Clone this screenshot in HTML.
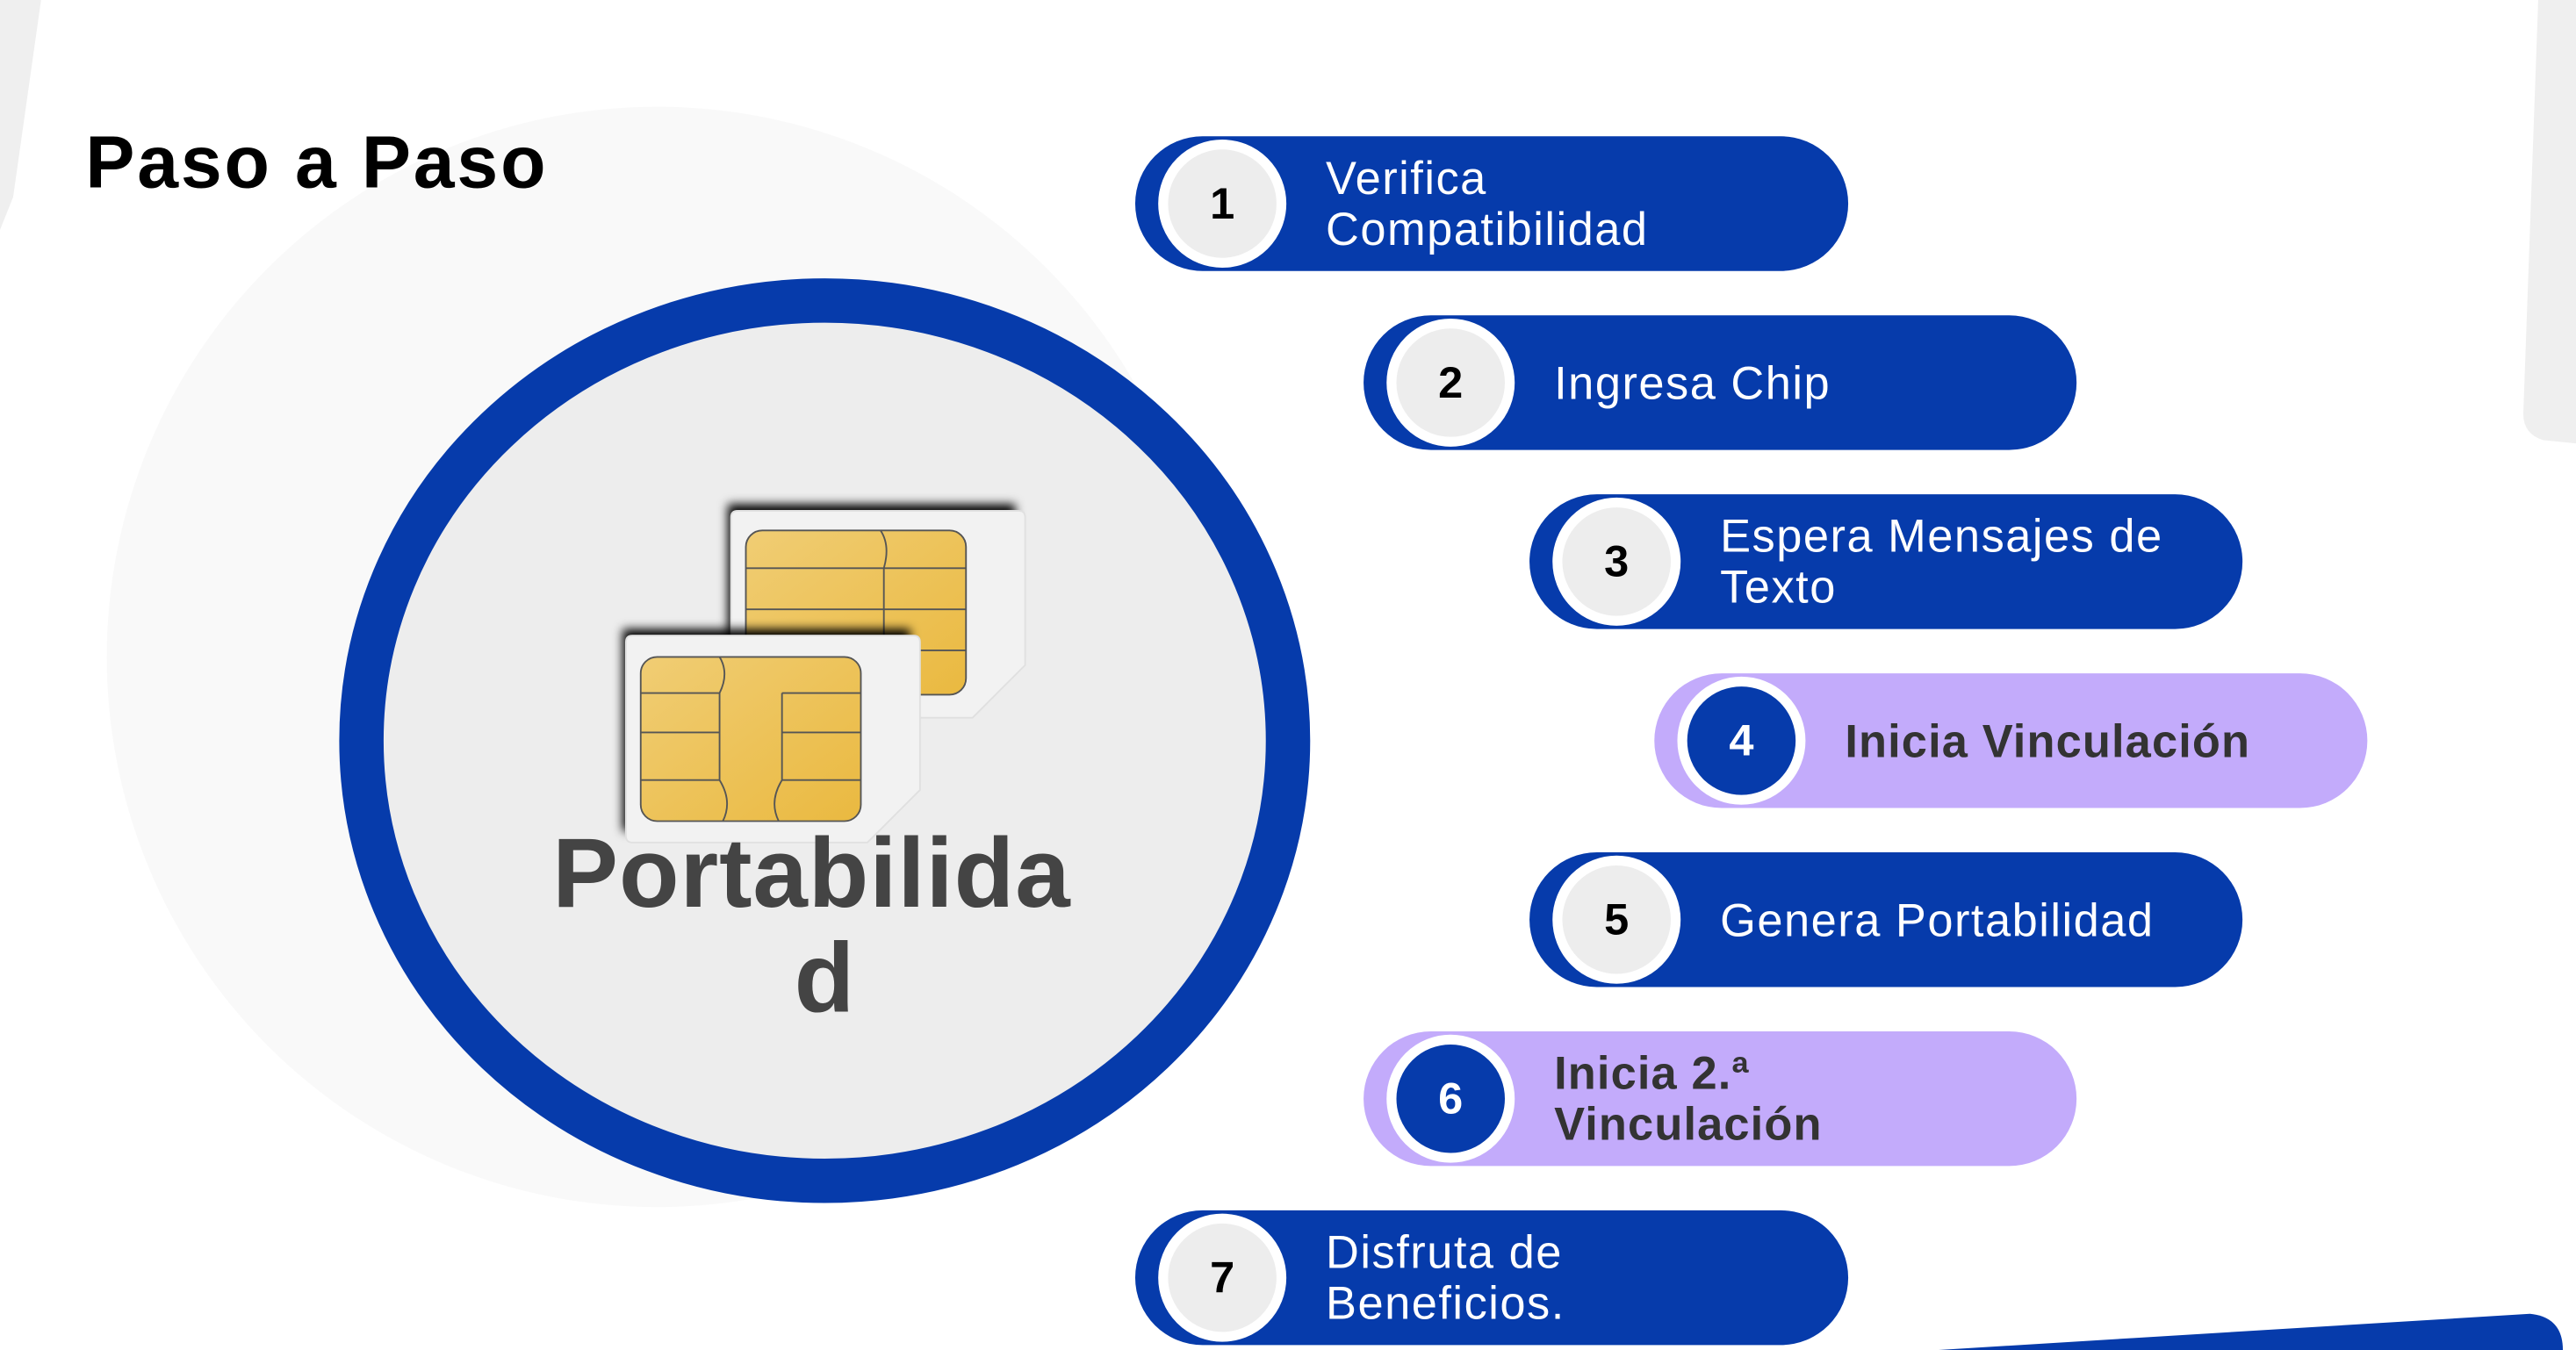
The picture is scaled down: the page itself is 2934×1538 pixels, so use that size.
<!DOCTYPE html>
<html><head><meta charset="utf-8"><style>
html,body{margin:0;padding:0;background:#fff;overflow:hidden}
body{width:2934px;height:1538px;position:relative}
#s{position:absolute;left:0;top:0;width:1568px;height:822px;transform:scale(1.87117,1.8710);transform-origin:0 0;font-family:"Liberation Sans",sans-serif}
.p{position:absolute;width:434px;height:82px;border-radius:41px;background:#063bab}
.p.l{background:#c3abfb}
.c{position:absolute;left:14px;top:2px;width:66px;height:66px;border-radius:50%;background:#ededed;border:6px solid #fff;font-weight:bold;font-size:27px;line-height:66px;text-align:center;color:#000}
.l .c{background:#063bab;color:#fff}
.t{position:absolute;left:116px;top:0;height:82px;display:flex;align-items:center;color:#fff;font-size:28px;line-height:31px;white-space:nowrap;letter-spacing:0.8px}
.l .t{color:#333;font-weight:bold;letter-spacing:0.6px}
</style></head><body><div id="s">
<svg width="1568" height="822" style="position:absolute;left:0;top:0">
<path d="M0 0 L25 0 L8 120 L0 140 Z" fill="#efefef"/>
<path d="M1545 0 L1568 0 L1568 270 L1548 268 Q1535 264 1536 250 Z" fill="#efefef"/>
<circle cx="400" cy="400" r="335" fill="#f9f9f9"/>
<path d="M1180 822 L1540 800 Q1560 802 1560 822 Z" fill="#063bab"/>
<ellipse cx="502" cy="451" rx="282" ry="268" fill="#ededed" stroke="#063bab" stroke-width="27"/>
<defs><filter id="sh" x="-20%" y="-20%" width="140%" height="140%"><feGaussianBlur stdDeviation="3"/></filter>
<linearGradient id="g" x1="0" y1="0" x2="1" y2="1"><stop offset="0" stop-color="#f0cd74"/><stop offset="1" stop-color="#eab940"/></linearGradient></defs>
<g>
<path d="M443 307 L618 307 L618 400 L590 430 L443 430 Z" fill="#000" filter="url(#sh)"/>
<path d="M449 311 L620 311 Q624 311 624 315 L624 405 L592 437 L449 437 Q445 437 445 433 L445 315 Q445 311 449 311 Z" fill="#f2f2f2" stroke="#e0e0e0"/>
<rect x="454" y="323" width="134" height="100" rx="10" fill="url(#g)" stroke="#555" stroke-width="1"/>
<path d="M454 346 H538 M454 371 H538 M454 396 H538 M538 346 V423 M538 346 H588 M538 371 H588 M538 396 H588 M538 346 Q542 332 536 323" stroke="#555" fill="none" stroke-width="1"/>
</g>
<g>
<path d="M379 383 L554 383 L554 476 L526 506 L379 506 Z" fill="#000" filter="url(#sh)"/>
<path d="M385 387 L556 387 Q560 387 560 391 L560 481 L528 513 L385 513 Q381 513 381 509 L381 391 Q381 387 385 387 Z" fill="#f2f2f2" stroke="#e0e0e0"/>
<rect x="390" y="400" width="134" height="100" rx="10" fill="url(#g)" stroke="#555" stroke-width="1"/>
<path d="M390 422 H438 M390 446 H438 M390 475 H438 M438 422 V475 M476 422 V475 M476 422 H524 M476 446 H524 M476 475 H524 M438 422 Q444 410 438 400 M438 475 Q446 488 440 500 M476 475 Q468 488 474 500" stroke="#555" fill="none" stroke-width="1"/>
</g>
</svg>
<div style="position:absolute;left:52px;top:73px;font-size:45px;font-weight:900;color:#000;letter-spacing:1.5px;white-space:nowrap">Paso a Paso</div>
<div style="position:absolute;left:284px;top:500px;width:420px;text-align:center;font-size:60px;font-weight:bold;color:#444;line-height:64px;letter-spacing:0.5px">Portabilida<br><span style="margin-left:16px">d</span></div>

<div class="p" style="left:691px;top:83px"><div class="c">1</div><div class="t">Verifica<br>Compatibilidad</div></div>
<div class="p" style="left:830px;top:192px"><div class="c">2</div><div class="t">Ingresa Chip</div></div>
<div class="p" style="left:931px;top:301px"><div class="c">3</div><div class="t">Espera Mensajes de<br>Texto</div></div>
<div class="p l" style="left:1007px;top:410px"><div class="c">4</div><div class="t">Inicia Vinculación</div></div>
<div class="p" style="left:931px;top:519px"><div class="c">5</div><div class="t">Genera Portabilidad</div></div>
<div class="p l" style="left:830px;top:628px"><div class="c">6</div><div class="t">Inicia 2.ª<br>Vinculación</div></div>
<div class="p" style="left:691px;top:737px"><div class="c">7</div><div class="t">Disfruta de<br>Beneficios.</div></div>
</div></body></html>
